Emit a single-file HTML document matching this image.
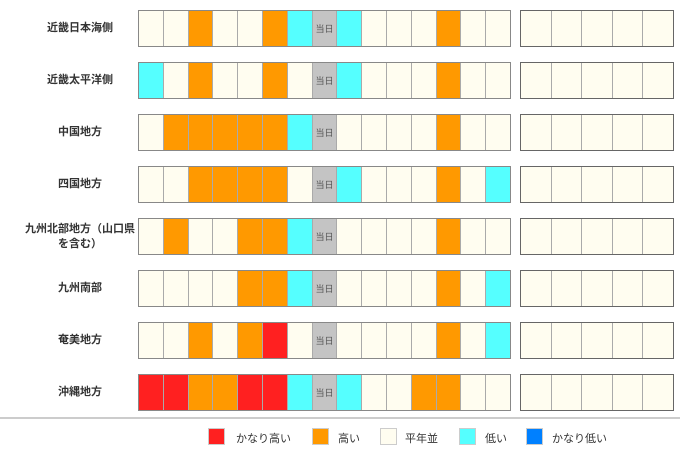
<!DOCTYPE html><html><head><meta charset="utf-8"><style>
body{margin:0;width:680px;height:451px;background:#fff;font-family:"Liberation Sans","Noto Sans CJK JP",sans-serif;position:relative;overflow:hidden}
.lab{position:absolute;left:0;width:160px;text-align:center;font-size:11px;font-weight:bold;color:#333;line-height:15px}
.blk{position:absolute;display:flex;border:1px solid #888;box-sizing:border-box;height:37px}
.blk div{flex:1;border-right:1px solid #aaa;box-sizing:border-box}
.blk div:last-child{border-right:none}
.w{background:#fffdf0}.o{background:#ff9900}.c{background:#55ffff}.r{background:#ff2020}.g{background:#c4c4c4;font-size:9px;color:#555;display:flex;align-items:center;justify-content:center}
.sep{position:absolute;left:0;top:417px;width:680px;height:2px;background:#ccc}
.lg{position:absolute;top:428px;width:17px;height:17px;box-sizing:border-box;border:1px solid #ccc}
.lt{position:absolute;top:430px;font-size:11px;color:#333}
</style></head><body>
<div id="c"></div>
<div class="sep"></div>
<div class="lg r" style="left:208px"></div><div class="lt" style="left:236px">かなり高い</div>
<div class="lg o" style="left:312px"></div><div class="lt" style="left:338px">高い</div>
<div class="lg w" style="left:380px"></div><div class="lt" style="left:405px">平年並</div>
<div class="lg c" style="left:459px"></div><div class="lt" style="left:485px">低い</div>
<div class="lg" style="left:526px;background:#0080ff"></div><div class="lt" style="left:552px">かなり低い</div>
<script>
var rows=[["近畿日本海側","wwowwocgcwwwoww"],["近畿太平洋側","cwowwowgcwwwoww"],["中国地方","wooooocgwwwwoww"],["四国地方","wwoooowgcwwwowc"],["九州北部地方（山口県<br>を含む）","wowwoocgwwwwoww"],["九州南部","wwwwoocgwwwwowc"],["奄美地方","wwoworwgwwwwowc"],["沖縄地方","rroorrcgcwwooww"]];
var h="";rows.forEach(function(r,i){var y=10+i*52;
h+='<div class="lab" style="top:'+(y+18.5-(r[0].indexOf("<br>")>0?15:7.5))+'px">'+r[0]+'</div>';
h+='<div class="blk" style="left:138px;top:'+y+'px;width:373px">';
for(var k of r[1])h+='<div class="'+k+'">'+(k=="g"?"当日":"")+'</div>';
h+='</div><div class="blk" style="left:520px;top:'+y+'px;width:154px;border-color:#666">';
for(var j=0;j<5;j++)h+='<div class="w"></div>';h+='</div>';});
document.getElementById("c").innerHTML=h;
</script></body></html>
